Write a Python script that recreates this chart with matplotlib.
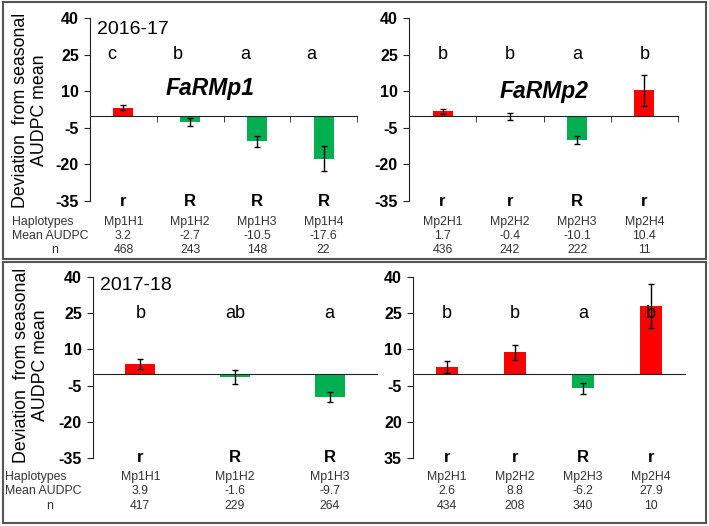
import numpy as np
import matplotlib.pyplot as plt
from matplotlib.patches import Rectangle
from matplotlib.transforms import blended_transform_factory

plt.rcParams['font.family'] = ['Liberation Sans', 'DejaVu Sans']

# 2016-17, FaRMp1
hap_a = ['Mp1H1', 'Mp1H2', 'Mp1H3', 'Mp1H4']
mean_a = [3.2, -2.7, -10.5, -17.6]
err_a = [1.1, 1.7, 2.2, 5.2]
n_a = [468, 243, 148, 22]
sig_a = ['c', 'b', 'a', 'a']
res_a = ['r', 'R', 'R', 'R']

# 2016-17, FaRMp2
hap_b = ['Mp2H1', 'Mp2H2', 'Mp2H3', 'Mp2H4']
mean_b = [1.7, -0.4, -10.1, 10.4]
err_b = [1.2, 1.5, 1.6, 6.3]
n_b = [436, 242, 222, 11]
sig_b = ['b', 'b', 'a', 'b']
res_b = ['r', 'r', 'R', 'r']

# 2017-18, FaRMp1
hap_c = ['Mp1H1', 'Mp1H2', 'Mp1H3']
mean_c = [3.9, -1.6, -9.7]
err_c = [2.1, 2.9, 2.2]
n_c = [417, 229, 264]
sig_c = ['b', 'ab', 'a']
res_c = ['r', 'R', 'R']

# 2017-18, FaRMp2
hap_d = ['Mp2H1', 'Mp2H2', 'Mp2H3', 'Mp2H4']
mean_d = [2.6, 8.8, -6.2, 27.9]
err_d = [2.4, 3.0, 2.2, 9.2]
n_d = [434, 208, 340, 10]
sig_d = ['b', 'b', 'a', 'b']
res_d = ['r', 'r', 'R', 'r']

yticks = [40, 25, 10, -5, -20, -35]
ytick_labels = ['40', '25', '10', '-5', '-20', '-35']
ytick_labels_d = ['40', '25', '10', '-5', '20', '35']

W, H = 709, 526
fig = plt.figure(figsize=(W / 100, H / 100), dpi=100)
RED = '#ff0000'
GREEN = '#00b050'
TXT = '#333333'


def px_axes(x0, y0, x1, y1):
    return fig.add_axes([x0 / W, 1 - y1 / H, (x1 - x0) / W, (y1 - y0) / H])


def panel(ax, means, errs, res, sig, haps, means_txt, ns, rows_y, tlabels,
          bw=0.3, sig_shift=0.0, boundary_ticks=True):
    x = np.arange(len(means))
    cols = [RED if r == 'r' else GREEN for r in res]
    ax.bar(x, means, width=bw, color=cols, zorder=2)
    ax.errorbar(x, means, yerr=errs, fmt='none', ecolor='black',
                elinewidth=1, capsize=2, capthick=1, zorder=3)
    ax.set_xlim(-0.5, len(means) - 0.5)
    ax.set_ylim(-35, 40)
    for s in ['top', 'right']:
        ax.spines[s].set_visible(False)
    ax.spines['bottom'].set_position(('data', 0))
    ax.spines['bottom'].set_color('#222222')
    ax.spines['left'].set_color('#222222')
    ax.set_yticks(yticks)
    ax.set_yticklabels(tlabels, fontsize=11.5, fontweight='bold')
    ax.tick_params(axis='y', direction='out', length=4, pad=4, colors='#222222')
    ax.tick_params(axis='y', labelcolor='black')
    ax.set_xticks([])
    if boundary_ticks:
        ax.set_xticks(np.arange(len(means)) + 0.5, minor=True)
        ax.tick_params(axis='x', which='minor', direction='out', length=4,
                       colors='#222222')
    ax.patch.set_alpha(0)
    for i in range(len(means)):
        ax.text(i + sig_shift, 25, sig[i], ha='center', va='center', fontsize=13)
        ax.text(i, -35, res[i], ha='center', va='center', fontsize=12,
                fontweight='bold')
    tr = blended_transform_factory(ax.transData, fig.transFigure)
    for i in range(len(means)):
        for val, yy in zip([haps[i], means_txt[i], ns[i]], rows_y):
            ax.text(i, 1 - yy / H, str(val), transform=tr, ha='center',
                    va='center', fontsize=8.8, color=TXT, clip_on=False)


def row_heads(x0, xn, rows_y):
    fig.text(x0 / W, 1 - rows_y[0] / H, 'Haplotypes', ha='left', va='center',
             fontsize=8.8, color=TXT)
    fig.text(x0 / W, 1 - rows_y[1] / H, 'Mean AUDPC', ha='left', va='center',
             fontsize=8.8, color=TXT)
    fig.text(xn / W, 1 - rows_y[2] / H, 'n', ha='center', va='center',
             fontsize=8.8, color=TXT)


top_rows = [222, 236, 250]
bot_rows = [477, 491, 506]

ax1 = px_axes(90, 18, 357, 201)
panel(ax1, mean_a, err_a, res_a, sig_a, hap_a, mean_a, n_a, top_rows,
      ytick_labels, sig_shift=-0.18)
ax2 = px_axes(409, 18, 678, 201)
panel(ax2, mean_b, err_b, res_b, sig_b, hap_b, mean_b, n_b, top_rows,
      ytick_labels)
ax3 = px_axes(93, 277, 377, 458)
panel(ax3, mean_c, err_c, res_c, sig_c, hap_c, mean_c, n_c, bot_rows,
      ytick_labels, bw=0.32, boundary_ticks=False)
ax4 = px_axes(413, 277, 685, 458)
panel(ax4, mean_d, err_d, res_d, sig_d, hap_d, mean_d, n_d, bot_rows,
      ytick_labels_d, bw=0.32, boundary_ticks=False)

row_heads(12, 55, top_rows)
row_heads(5, 50, bot_rows)

ylab = 'Deviation  from seasonal\nAUDPC mean'
fig.text(30 / W, 1 - 110 / H, ylab, rotation=90, ha='center', va='center',
         fontsize=12.8, linespacing=1.1)
fig.text(31 / W, 1 - 365 / H, ylab, rotation=90, ha='center', va='center',
         fontsize=12.8, linespacing=1.1)

fig.text(97 / W, 1 - 29 / H, '2016-17', ha='left', va='center', fontsize=14)
fig.text(100 / W, 1 - 286 / H, '2017-18', ha='left', va='center', fontsize=14)
fig.text(210 / W, 1 - 89 / H, 'FaRMp1', ha='center', va='center', fontsize=16.5,
         fontweight='bold', fontstyle='italic')
fig.text(544 / W, 1 - 92 / H, 'FaRMp2', ha='center', va='center', fontsize=16.5,
         fontweight='bold', fontstyle='italic')

fig.add_artist(Rectangle((3 / W, 1 - 259 / H), 703 / W, 257 / H,
                         transform=fig.transFigure, fill=False,
                         ec='#555555', lw=1.5))
fig.add_artist(Rectangle((3 / W, 1 - 523 / H), 703 / W, 261 / H,
                         transform=fig.transFigure, fill=False,
                         ec='#555555', lw=1.5))

fig.savefig('out.png', dpi=100)
